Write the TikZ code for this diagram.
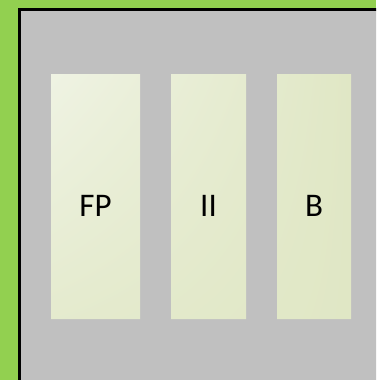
\documentclass[tikz,border=0pt]{standalone}
\usepackage{fontspec}
\setmainfont{Carlito}
\usetikzlibrary{shadings}
\definecolor{grn}{HTML}{92D050}
\definecolor{gry}{HTML}{C0C0C0}
\definecolor{boxL}{HTML}{EFF3E3}
\definecolor{boxR}{HTML}{E0E7C5}
\begin{document}
\begin{tikzpicture}[x=1pt,y=-1pt,
  lbl/.style={anchor=base,inner sep=0pt,font=\fontsize{33}{36}\selectfont}]
\useasboundingbox (0,0) rectangle (376,380);
\begin{scope}
\clip (0,0) rectangle (376,380);
\fill[grn] (0,0) rectangle (376,380);
\path[fill=gry,draw=black,line width=3pt] (19.5,9.5) rectangle (420,420);
\end{scope}
\begin{scope}
\clip (51,74) rectangle (140,319)
      (171,74) rectangle (246,319)
      (277,74) rectangle (351,319);
\shade[upper left=boxL,upper right=boxR,lower left=boxR!70!boxL,lower right=boxR] (51,74) rectangle (351,319);
\end{scope}
\node[lbl] (fp) at (95.5,216) {FP};
\node[lbl] (ii) at (208.5,216) {II};
\node[lbl] (b) at (314,216) {B};
\end{tikzpicture}
\end{document}
